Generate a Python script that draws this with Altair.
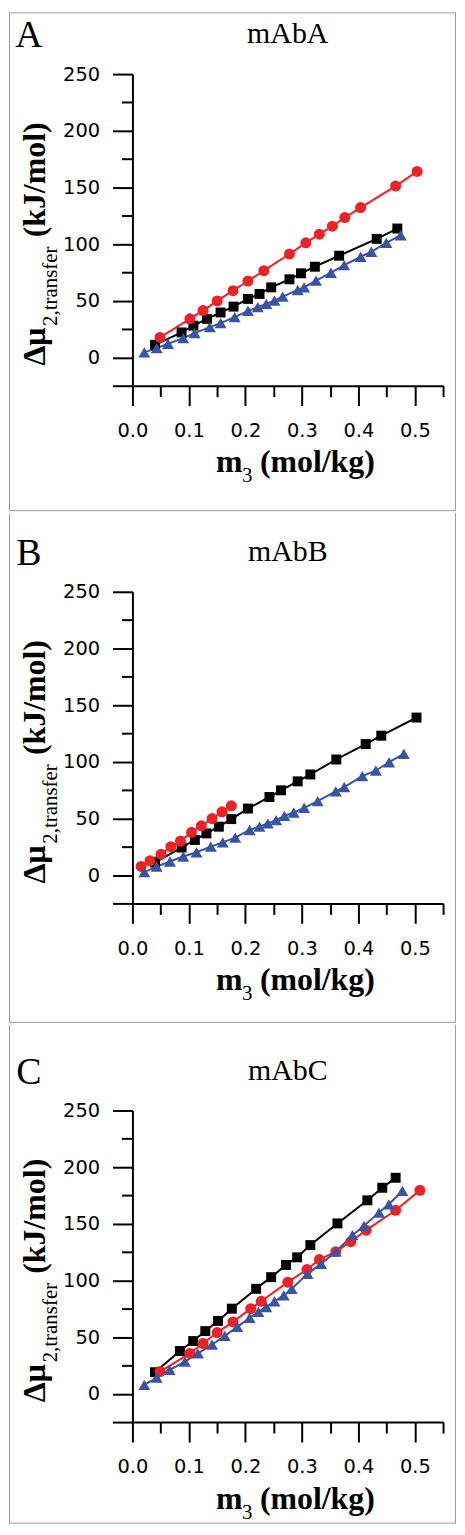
import altair as alt
import pandas as pd

# ---------------- data ----------------
# Panel A : mAbA
A_black_x = [0.040, 0.087, 0.108, 0.132, 0.156, 0.179, 0.2045, 0.225, 0.2457, 0.278, 0.2985, 0.323, 0.366, 0.4325, 0.469]
A_black_y = [11.1, 22.0, 28.0, 34.0, 39.6, 44.8, 51.6, 56.0, 61.8, 68.9, 74.2, 80.0, 89.7, 104.6, 113.7]
A_red_x = [0.0488, 0.1017, 0.125, 0.150, 0.178, 0.2045, 0.2327, 0.278, 0.307, 0.331, 0.354, 0.376, 0.404, 0.466, 0.504]
A_red_y = [17.6, 34.0, 41.3, 49.8, 58.9, 67.4, 76.5, 91.2, 101.1, 108.7, 115.8, 123.4, 132.2, 151.2, 164.1]
A_blue_x = [0.021, 0.043, 0.063, 0.090, 0.110, 0.137, 0.156, 0.181, 0.2045, 0.222, 0.237, 0.2515, 0.266,
            0.2926, 0.304, 0.325, 0.3514, 0.375, 0.404, 0.423, 0.4495, 0.475]
A_blue_y = [4.4, 8.2, 12.0, 17.0, 21.4, 26.7, 30.2, 35.5, 41.0, 44.3, 47.2, 50.1, 53.6,
            59.5, 61.8, 67.7, 74.7, 81.4, 88.8, 93.2, 101.1, 107.8]

# Panel B : mAbB
B_black_x = [0.040, 0.087, 0.1105, 0.131, 0.153, 0.175, 0.2045, 0.2426, 0.263, 0.2926, 0.315, 0.361, 0.413, 0.4406, 0.503]
B_black_y = [11.1, 24.3, 31.0, 36.8, 42.7, 49.4, 58.7, 68.9, 74.8, 82.7, 88.8, 102.0, 115.6, 123.0, 139.0]
B_red_x = [0.0153, 0.031, 0.0506, 0.068, 0.085, 0.1046, 0.122, 0.141, 0.1586, 0.175]
B_red_y = [7.6, 12.6, 18.4, 25.1, 30.0, 37.7, 43.5, 49.9, 55.8, 61.1]
B_blue_x = [0.021, 0.043, 0.0664, 0.090, 0.1134, 0.1387, 0.160, 0.182, 0.2074, 0.225, 0.2397, 0.2545, 0.269,
            0.2855, 0.304, 0.328, 0.360, 0.375, 0.407, 0.431, 0.4545, 0.4806]
B_blue_y = [2.6, 7.6, 12.0, 16.4, 20.1, 25.1, 28.9, 33.0, 39.8, 42.7, 45.6, 48.5, 52.3,
            55.2, 59.3, 65.2, 73.9, 77.7, 87.3, 92.3, 99.6, 106.9]

# Panel C : mAbC
C_black_x = [0.040, 0.084, 0.1075, 0.129, 0.1516, 0.176, 0.219, 0.2456, 0.272, 0.2916, 0.315, 0.363, 0.416, 0.4424, 0.466]
C_black_y = [19.0, 37.7, 46.5, 55.3, 64.3, 75.1, 92.6, 102.9, 113.7, 120.4, 131.2, 150.3, 170.7, 181.8, 190.6]
C_red_x = [0.049, 0.1017, 0.125, 0.150, 0.178, 0.2095, 0.228, 0.275, 0.309, 0.331, 0.360, 0.3866, 0.414, 0.466, 0.509]
C_red_y = [19.6, 35.6, 44.4, 54.0, 63.4, 75.1, 81.6, 98.5, 109.6, 118.4, 125.4, 134.2, 144.4, 161.9, 179.5]
C_blue_x = [0.021, 0.043, 0.066, 0.093, 0.116, 0.141, 0.1634, 0.1857, 0.2074, 0.223, 0.2368, 0.2515, 0.268,
            0.282, 0.310, 0.334, 0.360, 0.3896, 0.410, 0.4366, 0.454, 0.478]
C_blue_y = [7.9, 14.3, 21.1, 28.3, 35.6, 43.5, 51.1, 59.0, 66.9, 72.2, 76.6, 81.6, 86.8,
            92.6, 105.8, 114.6, 125.4, 140.0, 148.2, 159.9, 167.2, 179.0]

panel_letters = ["A", "B", "C"]
panel_titles = ["mAbA", "mAbB", "mAbC"]
series_names = ["black", "red", "blue"]
series_colors = ["#000000", "#ec2227", "#3a54a4"]
series_shapes = ["square", "circle", "triangle-up"]
series_sizes = [100, 144, 169]

x_ticks = [round(0.05 * i, 2) for i in range(12)]
y_ticks = [-25 + 25 * i for i in range(12)]

panel_data = [
    [(A_black_x, A_black_y), (A_red_x, A_red_y), (A_blue_x, A_blue_y)],
    [(B_black_x, B_black_y), (B_red_x, B_red_y), (B_blue_x, B_blue_y)],
    [(C_black_x, C_black_y), (C_red_x, C_red_y), (C_blue_x, C_blue_y)],
]

# ---------------- layout constants ----------------
W, H = 312, 313
# frame extents relative to each plot area (top, bottom)
frame_tb = [(-62, 439), (-79, 433), (-86, 415)]
FRAME_L, FRAME_R = -124, 325
GREY = "#9d9d9d"
SERIF = "Liberation Serif"
SANS = "DejaVu Sans"
TICK_FS = 19.5

one = pd.DataFrame({"k": [0]})

color_scale = alt.Scale(domain=series_names, range=series_colors)
shape_scale = alt.Scale(domain=series_names, range=series_shapes)
size_scale = alt.Scale(domain=series_names, range=series_sizes)

x_axis = alt.Axis(
    values=x_ticks, title=None, grid=False, zindex=1,
    labelExpr="round(datum.value*100) % 10 === 0 ? format(datum.value, '.1f') : ''",
    tickSize={"condition": {"test": "round(datum.value*100) % 10 === 0", "value": 20}, "value": 11},
    labelPadding=16, labelFlush=False, labelOverlap=False,
    labelFont=SANS, labelFontSize=TICK_FS, labelColor="black",
    domainColor="black", domainWidth=2, tickColor="black", tickWidth=2,
)
y_axis = alt.Axis(
    values=y_ticks, title=None, grid=False, zindex=1,
    labelExpr="datum.value % 50 === 0 ? datum.label : ''",
    tickSize={"condition": {"test": "datum.value % 50 === 0 || datum.value === -25", "value": 20}, "value": 11},
    labelPadding=13, labelOverlap=False,
    labelFont=SANS, labelFontSize=TICK_FS, labelColor="black",
    domainColor="black", domainWidth=2, tickColor="black", tickWidth=2,
)

x_enc = alt.X("m3:Q", scale=alt.Scale(domain=[0, 0.55], nice=False, zero=False), axis=x_axis)
y_enc = alt.Y("mu:Q", scale=alt.Scale(domain=[-25, 250], nice=False, zero=False), axis=y_axis)


def text(txt, x, y, size, weight="normal", font=SERIF, angle=0, align="left"):
    return alt.Chart(one).mark_text(
        text=txt, font=font, fontSize=size, fontWeight=weight, angle=angle,
        align=align, baseline="alphabetic", color="black",
    ).encode(x=alt.value(x), y=alt.value(y))


def hrule(x1, x2, y):
    return alt.Chart(one).mark_rule(color=GREY, strokeWidth=1).encode(
        x=alt.value(x1), x2=alt.value(x2), y=alt.value(y))


def vrule(x, y1, y2):
    return alt.Chart(one).mark_rule(color=GREY, strokeWidth=1).encode(
        x=alt.value(x), y=alt.value(y1), y2=alt.value(y2))


panels = []
for i in range(3):
    rows = []
    for name, (xs, ys) in zip(series_names, panel_data[i]):
        for xv, yv in zip(xs, ys):
            rows.append({"series": name, "m3": xv, "mu": yv})
    df = pd.DataFrame(rows)
    top, bot = frame_tb[i]

    background = alt.Chart(one).mark_rect(color="white").encode(
        x=alt.value(FRAME_L), x2=alt.value(FRAME_R), y=alt.value(top), y2=alt.value(bot))
    frame = [vrule(FRAME_L + 0.5, top, bot), vrule(FRAME_R - 0.5, top, bot),
             hrule(FRAME_L, FRAME_R, bot - 0.5)]
    if i == 0:
        frame.append(hrule(FRAME_L, FRAME_R, top + 0.5))

    base = alt.Chart(df)
    lines = base.mark_line(strokeWidth=2).encode(
        x=x_enc, y=y_enc,
        color=alt.Color("series:N", scale=color_scale, legend=None),
        detail="series:N", order="m3:Q",
    )
    points = base.mark_point(filled=True, opacity=1, strokeWidth=0).encode(
        x=x_enc, y=y_enc,
        color=alt.Color("series:N", scale=color_scale, legend=None),
        shape=alt.Shape("series:N", scale=shape_scale, legend=None),
        size=alt.Size("series:N", scale=size_scale, legend=None),
    )

    texts = [
        text(panel_letters[i], -104, -27, 38, align="center"),
        text(panel_titles[i], W / 2, -31, 30, align="center"),
        # y title: Δμ_{2,transfer} (kJ/mol)
        text("Δμ", -88, 293, 32, weight="bold", angle=270),
        text("2,transfer", -76, 253, 21, angle=270),
        text("(kJ/mol)", -88, 164, 32, weight="bold", angle=270),
        # x title: m_3 (mol/kg)
        text("m", 84, 400, 32, weight="bold"),
        text("3", 110, 410, 21),
        text("(mol/kg)", 128, 400, 32, weight="bold"),
    ]

    panel = alt.layer(background, *frame, lines, points, *texts).properties(width=W, height=H)
    panels.append(panel)

chart = alt.vconcat(*panels, spacing=0).properties(padding=0).configure_view(strokeWidth=0)

chart.save("out.html", embed_options={"renderer": "svg", "actions": False})
